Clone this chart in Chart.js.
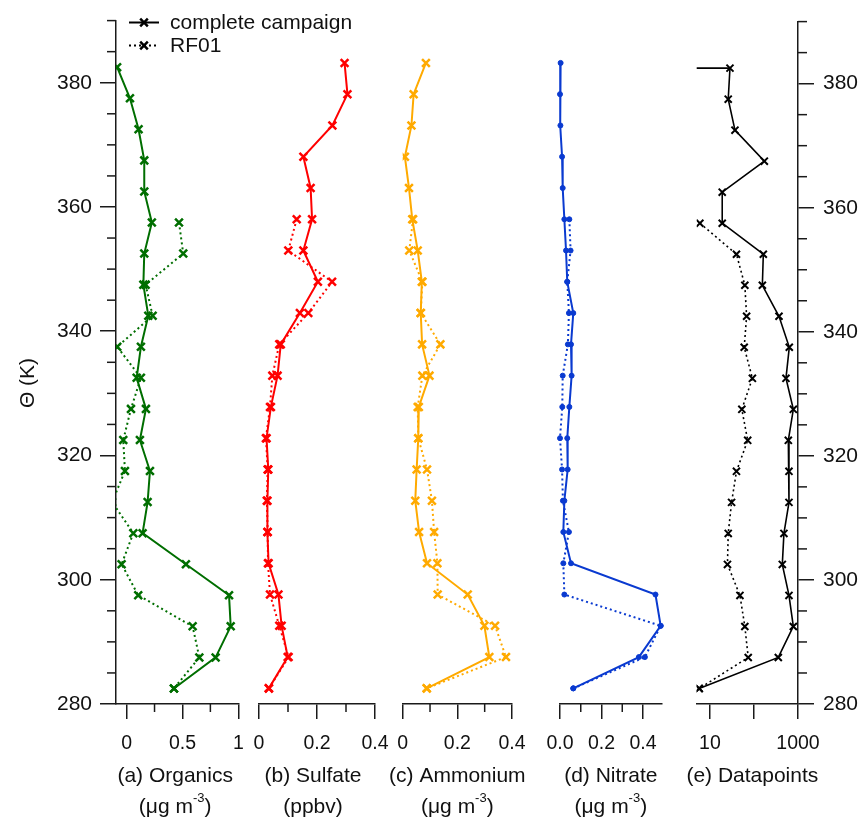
<!DOCTYPE html>
<html>
<head>
<meta charset="utf-8">
<title>Vertical profiles</title>
<script src="https://cdn.jsdelivr.net/npm/chart.js@4.4.1/dist/chart.umd.min.js"></script>
<style>
  html, body { margin: 0; padding: 0; background: #ffffff; }
  #wrap { position: relative; width: 861px; height: 821px; }
  #wrap canvas { position: absolute; left: 0; top: 0; }
</style>
</head>
<body>
<div id="wrap">
  <canvas id="panelA" width="861" height="821"></canvas>
  <canvas id="panelB" width="861" height="821"></canvas>
  <canvas id="panelC" width="861" height="821"></canvas>
  <canvas id="panelD" width="861" height="821"></canvas>
  <canvas id="panelE" width="861" height="821"></canvas>
</div>
<script>
// Potential temperature bins (K), top to bottom
const theta = [382.5, 377.5, 372.5, 367.5, 362.5, 357.5, 352.5, 347.5, 342.5, 337.5,
               332.5, 327.5, 322.5, 317.5, 312.5, 307.5, 302.5, 297.5, 292.5, 287.5, 282.5];

// Organics (ug m-3)
const organicsAll  = [-0.085, 0.03, 0.107, 0.158, 0.158, 0.226, 0.158, 0.15, 0.194, 0.128,
                      0.09, 0.173, 0.119, 0.209, 0.188, 0.143, 0.531, 0.917, 0.932, 0.797, 0.424];
const organicsRF01 = [null, null, null, null, null, 0.469, 0.507, 0.17, 0.233, -0.084,
                      0.128, 0.039, -0.03, -0.015, -0.13, 0.06, -0.045, 0.104, 0.591, 0.651, 0.424];

// Sulfate (ppbv)
const sulfateAll  = [0.295, 0.305, 0.253, 0.153, 0.178, 0.183, 0.153, 0.203, 0.141, 0.075,
                     0.064, 0.041, 0.026, 0.032, 0.029, 0.029, 0.033, 0.067, 0.078, 0.099, 0.034];
const sulfateRF01 = [null, null, null, null, null, 0.13, 0.101, 0.252, 0.17, 0.07,
                     0.046, 0.038, 0.024, 0.03, 0.027, 0.03, 0.031, 0.038, 0.07, 0.102, 0.034];

// Ammonium (ug m-3)
const ammoniumAll  = [0.085, 0.04, 0.032, 0.008, 0.023, 0.035, 0.055, 0.07, 0.066, 0.071,
                      0.098, 0.059, 0.057, 0.051, 0.046, 0.06, 0.089, 0.238, 0.299, 0.317, 0.088];
const ammoniumRF01 = [null, null, null, null, null, 0.038, 0.024, 0.072, 0.066, 0.138,
                      0.072, 0.055, 0.057, 0.089, 0.107, 0.115, 0.127, 0.128, 0.338, 0.378, 0.088];

// Nitrate (ug m-3)
const nitrateAll  = [0.003, 0.0, 0.002, 0.01, 0.013, 0.021, 0.029, 0.035, 0.064, 0.053,
                     0.056, 0.045, 0.035, 0.037, 0.021, 0.016, 0.053, 0.46, 0.485, 0.38, 0.064];
const nitrateRF01 = [null, null, null, null, null, 0.045, 0.051, 0.035, 0.043, 0.038,
                     0.013, 0.011, 0.0, 0.01, 0.014, 0.043, 0.016, 0.021, 0.485, 0.409, 0.064];

// Number of datapoints per bin
const datapointsAll  = [28.5, 26, 37, 172, 19, 19, 163, 155, 370, 634,
                        533, 783, 603, 624, 624, 479, 440, 624, 783, 357, 5.7];
const datapointsRF01 = [null, null, null, null, null, 5.9, 40, 62, 68, 60,
                        92, 53, 72, 40, 31, 26, 25, 48, 62, 74, 5.7];
// leading entry of the campaign count series (below the axis minimum)
const datapointsLead = { theta: 382.5, n: 1 };

// Axis ticks
const thetaMajor = [280, 300, 320, 340, 360, 380];
const thetaMinor = [285, 290, 295, 305, 310, 315, 325, 330, 335, 345, 350, 355, 365, 370, 375, 385, 390];
const organicsTicks = [0, 0.5, 1];           const organicsLabels = ['0', '0.5', '1'];
const organicsMinor = [0.25, 0.75];
const sulfateTicks  = [0, 0.2, 0.4];         const sulfateLabels  = ['0', '0.2', '0.4'];
const sulfateMinor  = [0.1, 0.3];
const ammoniumTicks = [0, 0.2, 0.4];         const ammoniumLabels = ['0', '0.2', '0.4'];
const ammoniumMinor = [0.1, 0.3];
const nitrateTicks  = [0, 0.2, 0.4];         const nitrateLabels  = ['0.0', '0.2', '0.4'];
const nitrateMinor  = [0.1, 0.3];
const countTicks    = [10, 100, 1000];       const countLabels    = ['10', '', '1000'];

const FONT = '"Liberation Sans", Arial, Helvetica, sans-serif';
const INK = '#111111';
const AXIS = '#1a1a1a';
const W = 861, H = 821;
const TOP = 16, BOTTOM = 704;

function toPoints(ys, xs) {
  const out = [];
  for (let i = 0; i < ys.length; i++) {
    if (xs[i] !== null && xs[i] !== undefined) out.push({ x: xs[i], y: ys[i] });
  }
  return out;
}

// minor ticks, axis titles, legend and the theta label
const decorPlugin = {
  id: 'decor',
  afterDraw(chart, args, o) {
    const ctx = chart.ctx, ca = chart.chartArea;
    ctx.save();
    ctx.strokeStyle = AXIS;
    ctx.lineWidth = 1.5;
    const xs = chart.scales.x, ys = chart.scales.y;
    (o.xMinor || []).forEach(v => {
      const px = xs.getPixelForValue(v);
      ctx.beginPath(); ctx.moveTo(px, ca.bottom); ctx.lineTo(px, ca.bottom + 8); ctx.stroke();
    });
    if (o.yMinorSide) {
      thetaMinor.forEach(v => {
        const py = ys.getPixelForValue(v);
        ctx.beginPath();
        if (o.yMinorSide === 'left') { ctx.moveTo(ca.left - 9, py); ctx.lineTo(ca.left, py); }
        else { ctx.moveTo(ca.right, py); ctx.lineTo(ca.right + 9, py); }
        ctx.stroke();
      });
    }

    // axis title under the panel
    ctx.fillStyle = INK;
    const cx = (ca.left + ca.right) / 2 + (o.titleShift || 0);
    ctx.textBaseline = 'alphabetic';
    ctx.textAlign = 'center';
    ctx.font = '21px ' + FONT;
    ctx.fillText(o.name, cx, 782);
    if (o.unit) {
      const [a, s, b] = o.unit;
      ctx.font = '21px ' + FONT;
      const wa = ctx.measureText(a).width, wb = ctx.measureText(b).width;
      ctx.font = '13px ' + FONT;
      const ws = ctx.measureText(s).width;
      let x = cx - (wa + ws + wb) / 2;
      ctx.textAlign = 'left';
      ctx.font = '21px ' + FONT; ctx.fillText(a, x, 813); x += wa;
      ctx.font = '13px ' + FONT; ctx.fillText(s, x, 802); x += ws;
      ctx.font = '21px ' + FONT; ctx.fillText(b, x, 813);
    }

    if (o.legend) {
      ctx.strokeStyle = '#000';
      o.legend.forEach((row, i) => {
        const y = 22.5 + i * 23;
        ctx.lineWidth = 2;
        ctx.setLineDash(row.dash);
        ctx.beginPath(); ctx.moveTo(129, y); ctx.lineTo(159, y); ctx.stroke();
        ctx.setLineDash([]);
        ctx.lineWidth = 2.5;
        const r = 3.8;
        ctx.beginPath();
        ctx.moveTo(144 - r, y - r); ctx.lineTo(144 + r, y + r);
        ctx.moveTo(144 - r, y + r); ctx.lineTo(144 + r, y - r);
        ctx.stroke();
        ctx.textAlign = 'left';
        ctx.textBaseline = 'middle';
        ctx.font = '21px ' + FONT;
        ctx.fillText(row.label, 170, y + 1);
      });
    }

    if (o.thetaLabel) {
      ctx.translate(28, 383);
      ctx.rotate(-Math.PI / 2);
      ctx.textAlign = 'center';
      ctx.textBaseline = 'middle';
      ctx.font = '21px ' + FONT;
      ctx.fillText(o.thetaLabel, 0, 0);
    }
    ctx.restore();
  }
};

function makePanel(id, p) {
  const solid = {
    data: p.allPoints,
    showLine: true,
    borderColor: p.color,
    backgroundColor: p.color,
    borderWidth: p.lineWidth,
    pointStyle: p.pointStyle,
    pointRadius: p.pointRadius,
    pointBorderWidth: p.pointBorderWidth,
    pointBackgroundColor: p.color,
    pointBorderColor: p.color
  };
  if (p.clip !== undefined) solid.clip = p.clip;
  const dotted = Object.assign({}, solid, { data: p.rf01Points, borderDash: [2, 3] });

  const yScale = {
    type: 'linear', min: 280, max: 390,
    display: !!p.yPos,
    position: p.yPos || 'left',
    afterFit: s => { s.width = p.yPos === 'right' ? (W - 798) : (p.yPos === 'left' ? 116 : 0); },
    afterBuildTicks: s => { s.ticks = thetaMajor.map(v => ({ value: v })); },
    border: { display: true, color: AXIS, width: 1.5 },
    grid: { display: true, drawOnChartArea: false, drawTicks: true, tickLength: 16,
            color: AXIS, lineWidth: 1.5, tickColor: AXIS, tickWidth: 1.5 },
    ticks: { autoSkip: false, padding: p.yPos === 'right' ? 9 : 8, color: INK,
             font: { family: FONT, size: 21 }, callback: v => String(v) }
  };

  const xScale = {
    type: p.xType, min: p.xMin, max: p.xMax, position: 'bottom',
    afterFit: s => { s.height = H - BOTTOM; },
    afterBuildTicks: s => { s.ticks = p.xTicks.map(v => ({ value: v })); },
    border: { display: true, color: AXIS, width: 1.5 },
    grid: { display: true, drawOnChartArea: false, drawTicks: true, tickLength: 15,
            color: AXIS, lineWidth: 1.5, tickColor: AXIS, tickWidth: 1.5 },
    ticks: { autoSkip: false, maxRotation: 0, minRotation: 0, padding: 13, color: INK,
             font: { family: FONT, size: 19.5 }, callback: (v, i) => p.xLabels[i] }
  };

  return new Chart(document.getElementById(id), {
    type: 'scatter',
    data: { datasets: [solid, dotted] },
    options: {
      responsive: false,
      animation: false,
      devicePixelRatio: 1,
      events: [],
      layout: { padding: { left: p.padLeft, right: p.padRight, top: TOP, bottom: 0 } },
      scales: { x: xScale, y: yScale },
      plugins: {
        legend: { display: false },
        tooltip: { enabled: false },
        decor: {
          xMinor: p.xMinor,
          yMinorSide: p.yPos || null,
          name: p.name,
          unit: p.unit,
          titleShift: p.titleShift || 0,
          legend: p.legend || null,
          thetaLabel: p.thetaLabel || null
        }
      }
    },
    plugins: [decorPlugin]
  });
}

const ugUnit = ['(\u03bcg m', '-3', ')'];
const crossStyle = { pointStyle: 'crossRot', pointRadius: 5.5, pointBorderWidth: 2.5, lineWidth: 2 };

makePanel('panelA', Object.assign({}, crossStyle, {
  color: '#006e00',
  allPoints: toPoints(theta, organicsAll), rf01Points: toPoints(theta, organicsRF01),
  xType: 'linear', xMin: -0.095, xMax: 1.0,
  xTicks: organicsTicks, xLabels: organicsLabels, xMinor: organicsMinor,
  padLeft: 0, padRight: W - 238.3, yPos: 'left',
  name: '(a) Organics', unit: ugUnit, titleShift: -2,
  thetaLabel: '\u0398 (K)',
  legend: [{ label: 'complete campaign', dash: [] }, { label: 'RF01', dash: [2, 3] }]
}));

makePanel('panelB', Object.assign({}, crossStyle, {
  color: '#ff0000',
  allPoints: toPoints(theta, sulfateAll), rf01Points: toPoints(theta, sulfateRF01),
  xType: 'linear', xMin: 0, xMax: 0.4,
  xTicks: sulfateTicks, xLabels: sulfateLabels, xMinor: sulfateMinor,
  padLeft: 259, padRight: W - 375,
  name: '(b) Sulfate', unit: ['(ppbv)', '', ''], titleShift: -4
}));

makePanel('panelC', Object.assign({}, crossStyle, {
  color: '#ffaa00',
  allPoints: toPoints(theta, ammoniumAll), rf01Points: toPoints(theta, ammoniumRF01),
  xType: 'linear', xMin: 0, xMax: 0.4,
  xTicks: ammoniumTicks, xLabels: ammoniumLabels, xMinor: ammoniumMinor,
  padLeft: 402.7, padRight: W - 512,
  name: '(c) Ammonium', unit: ugUnit
}));

makePanel('panelD', {
  color: '#0a3ad0', pointStyle: 'circle', pointRadius: 2.5, pointBorderWidth: 1, lineWidth: 2,
  clip: 4,
  allPoints: toPoints(theta, nitrateAll), rf01Points: toPoints(theta, nitrateRF01),
  xType: 'linear', xMin: 0, xMax: 0.49,
  xTicks: nitrateTicks, xLabels: nitrateLabels, xMinor: nitrateMinor,
  padLeft: 560, padRight: W - 661.7,
  name: '(d) Nitrate', unit: ugUnit
});

const countAll = [{ x: datapointsLead.n, y: datapointsLead.theta }].concat(toPoints(theta, datapointsAll));
const countChart = makePanel('panelE', {
  color: '#000000', pointStyle: 'crossRot', pointRadius: 5, pointBorderWidth: 2, lineWidth: 1.6,
  allPoints: countAll, rf01Points: toPoints(theta, datapointsRF01),
  xType: 'logarithmic', xMin: 5, xMax: 1000,
  xTicks: countTicks, xLabels: countLabels, xMinor: [],
  padLeft: 696.7, padRight: 0, yPos: 'right',
  name: '(e) Datapoints', unit: null, titleShift: 5
});
// the leading off-axis entry carries no marker
countChart.data.datasets[0].pointRadius = countAll.map(pt => pt.x < 5 ? 0 : 5);
countChart.update();
</script>
</body>
</html>
